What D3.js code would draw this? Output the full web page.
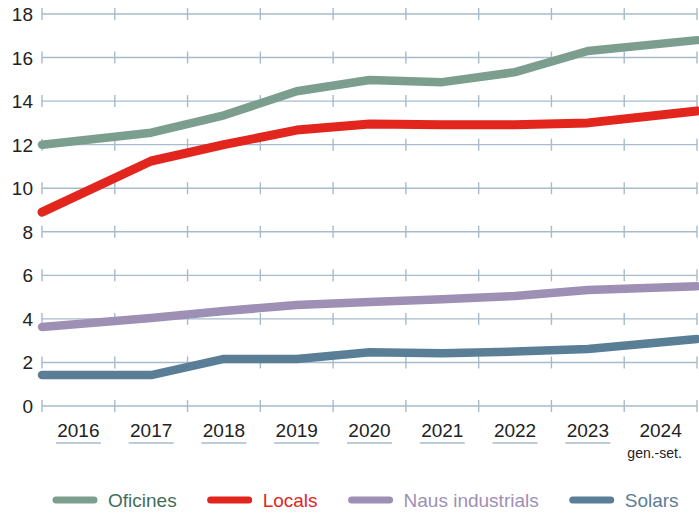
<!DOCTYPE html>
<meta charset="utf-8">
<head>
  <title>Preus per m2</title>
  <style>
    body { margin: 0; background: #fff; }
    text { font-family: "Liberation Sans", Arial, sans-serif; }
  </style>
</head>
<body>
  <svg width="699" height="513"></svg>

  <script src="https://cdnjs.cloudflare.com/ajax/libs/d3/7.8.5/d3.min.js"></script>
  <script>
var years = ['2016', '2017', '2018', '2019', '2020', '2021', '2022', '2023', '2024'];
var yTicks = [0, 2, 4, 6, 8, 10, 12, 14, 16, 18];
var seriesNames = ['Oficines', 'Locals', 'Naus industrials', 'Solars'];

var oficines = [12.0, 12.55, 13.35, 14.45, 14.97, 14.87, 15.33, 16.3, 16.8];
var locals   = [8.9, 11.25, 12.0, 12.67, 12.95, 12.92, 12.92, 13.0, 13.55];
var naus     = [3.63, 4.04, 4.36, 4.64, 4.78, 4.9, 5.05, 5.33, 5.5];
var solars   = [1.42, 1.42, 2.16, 2.16, 2.47, 2.42, 2.5, 2.62, 3.08];

var lineColors = ['#7b9e8f', '#e2261d', '#9e8fb5', '#5b7e97'];
var textColors = ['#3f6e5b', '#e2261d', '#9e8fb5', '#5b7e97'];
var gridColor = '#a7bbcb';

var svg = d3.select('svg');

var x = d3.scaleBand().domain(years).range([42, 697]);
var y = d3.scaleLinear().domain([0, 18]).range([406, 14]);

// first and last points sit on the edges of the plot
function px(d, i) {
  if (i === 0) return x.range()[0];
  if (i === years.length - 1) return x.range()[1];
  return x(years[i]) + x.bandwidth() / 2;
}

// grid lines with small ticks at each band edge
var edges = years.map(function(d) { return x(d); }).concat([x.range()[1]]);
var grid = svg.append('g');
yTicks.forEach(function(t) {
  grid.append('line')
    .attr('x1', 42).attr('x2', 697)
    .attr('y1', y(t)).attr('y2', y(t))
    .attr('stroke', gridColor).attr('stroke-width', 1.4);
  grid.selectAll(null)
    .data(edges)
    .enter()
    .append('line')
    .attr('x1', function(d) { return d; })
    .attr('x2', function(d) { return d; })
    .attr('y1', y(t) - 6).attr('y2', y(t) + 6)
    .attr('stroke', gridColor).attr('stroke-width', 1.4);
});

// y labels
svg.append('g')
  .selectAll('text')
  .data(yTicks)
  .enter()
  .append('text')
  .attr('x', 33)
  .attr('y', function(d) { return y(d) + 7; })
  .attr('text-anchor', 'end')
  .attr('font-size', 19)
  .attr('fill', '#222')
  .text(function(d) { return d; });

// x labels
var xl = svg.append('g');
xl.selectAll('text')
  .data(years)
  .enter()
  .append('text')
  .attr('x', function(d) { return x(d) + x.bandwidth() / 2; })
  .attr('y', 437)
  .attr('text-anchor', 'middle')
  .attr('font-size', 19)
  .attr('fill', '#222')
  .text(function(d) { return d; });

xl.selectAll('line')
  .data(years.slice(0, -1))
  .enter()
  .append('line')
  .attr('x1', function(d) { return x(d) + x.bandwidth() / 2 - 22.5; })
  .attr('x2', function(d) { return x(d) + x.bandwidth() / 2 + 22.5; })
  .attr('y1', 443).attr('y2', 443)
  .attr('stroke', gridColor).attr('stroke-width', 1.6);

xl.append('text')
  .attr('x', x('2024') + x.bandwidth() / 2 - 6)
  .attr('y', 458)
  .attr('text-anchor', 'middle')
  .attr('font-size', 14)
  .attr('fill', '#222')
  .text('gen.-set.');

// lines
var line = d3.line()
  .x(px)
  .y(function(d) { return y(d); });

var allSeries = [oficines, locals, naus, solars];

svg.append('g')
  .selectAll('path')
  .data(allSeries)
  .enter()
  .append('path')
  .attr('d', line)
  .attr('fill', 'none')
  .attr('stroke', function(d, i) { return lineColors[i]; })
  .attr('stroke-width', function(d, i) { return i === 1 ? 9 : 8.5; })
  .attr('stroke-linecap', 'round')
  .attr('stroke-linejoin', 'round');

// legend
var lg = svg.append('g');
var lx = 53;
seriesNames.forEach(function(name, i) {
  lg.append('line')
    .attr('x1', lx + 3).attr('x2', lx + 41)
    .attr('y1', 500).attr('y2', 500)
    .attr('stroke', lineColors[i])
    .attr('stroke-width', 7)
    .attr('stroke-linecap', 'round');
  var t = lg.append('text')
    .attr('x', lx + 55)
    .attr('y', 507)
    .attr('font-size', 19)
    .attr('fill', textColors[i])
    .text(name);
  lx += 55 + t.node().getComputedTextLength() + 31;
});
  </script>
</body>
</html>
